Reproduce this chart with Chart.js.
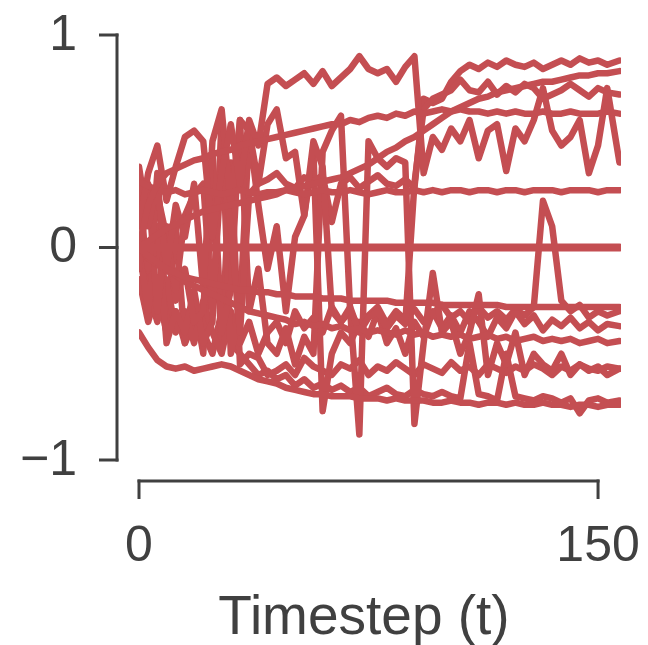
<!DOCTYPE html>
<html>
<head>
<meta charset="utf-8">
<script src="https://cdn.jsdelivr.net/npm/chart.js@4.4.1/dist/chart.umd.min.js"></script>
<style>
  html, body { margin: 0; padding: 0; background: #fff; }
  canvas { display: block; }
</style>
</head>
<body>
<canvas id="myChart" width="648" height="645"></canvas>
<script>
// timesteps sampled every 3 steps, last sample at the end of the run
var timesteps = [0,3,6,9,12,15,18,21,24,27,
  30,33,36,39,42,45,48,51,54,57,
  60,63,66,69,72,75,78,81,84,87,
  90,93,96,99,102,105,108,111,114,117,
  120,123,126,129,132,135,138,141,144,147,
  150,153,157];

var xTicks = [0, 150];
var yTicks = [-1, 0, 1];
var yTickLabels = ['\u22121', '0', '1'];
var xLabel = 'Timestep (t)';

// one array per trajectory
var traj0 = [0,0,0,0,0,0,0,0,0,0, 0,0,0,0,0,0,0,0,0,0, 0,0,0,0,0,0,0,0,0,0,
  0,0,0,0,0,0,0,0,0,0, 0,0,0,0,0,0,0,0,0,0, 0,0,0];
var traj1 = [0,0.03,0.06,0.09,0.11,0.13,0.15,0.17,0.18,0.19,
  0.2,0.21,0.22,0.23,0.24,0.25,0.27,0.28,0.29,0.3,
  0.31,0.32,0.33,0.35,0.37,0.39,0.42,0.45,0.47,0.5,
  0.52,0.55,0.58,0.61,0.64,0.66,0.68,0.7,0.71,0.73,
  0.74,0.75,0.76,0.77,0.78,0.78,0.79,0.8,0.81,0.81,
  0.82,0.82,0.83];
var traj2 = [0,0.2,0.3,0.35,0.37,0.39,0.41,0.42,0.44,0.45,
  0.46,0.48,0.49,0.5,0.51,0.52,0.53,0.54,0.55,0.56,
  0.57,0.58,0.58,0.6,0.59,0.61,0.62,0.61,0.63,0.62,
  0.64,0.63,0.64,0.65,0.64,0.65,0.64,0.64,0.63,0.64,
  0.63,0.64,0.63,0.63,0.64,0.63,0.63,0.64,0.63,0.63,
  0.63,0.64,0.63];
var traj3 = [0.31,0.29,0.27,0.26,0.27,0.25,0.26,0.27,0.26,0.25,
  0.26,0.27,0.26,0.25,0.26,0.26,0.27,0.26,0.25,0.26,
  0.27,0.26,0.26,0.27,0.26,0.25,0.26,0.27,0.26,0.26,
  0.27,0.26,0.27,0.26,0.27,0.27,0.26,0.27,0.27,0.26,
  0.27,0.27,0.26,0.27,0.27,0.27,0.26,0.27,0.27,0.27,
  0.26,0.27,0.27];
var traj4 = [0,-0.04,-0.07,-0.1,-0.12,-0.14,-0.15,-0.16,-0.17,-0.18,
  -0.19,-0.2,-0.2,-0.21,-0.21,-0.22,-0.22,-0.23,-0.23,-0.23,
  -0.24,-0.24,-0.24,-0.25,-0.25,-0.25,-0.25,-0.25,-0.26,-0.26,
  -0.26,-0.26,-0.26,-0.27,-0.27,-0.27,-0.27,-0.27,-0.27,-0.27,
  -0.28,-0.28,-0.28,-0.28,-0.28,-0.28,-0.28,-0.28,-0.28,-0.28,
  -0.28,-0.28,-0.28];
var traj5 = [-0.4,-0.47,-0.53,-0.56,-0.57,-0.56,-0.58,-0.57,-0.56,-0.55,
  -0.56,-0.58,-0.6,-0.62,-0.63,-0.64,-0.66,-0.67,-0.68,-0.69,
  -0.69,-0.7,-0.7,-0.7,-0.71,-0.71,-0.71,-0.72,-0.71,-0.72,
  -0.72,-0.72,-0.73,-0.73,-0.72,-0.73,-0.73,-0.74,-0.73,-0.73,
  -0.74,-0.73,-0.74,-0.74,-0.73,-0.74,-0.74,-0.75,-0.74,-0.74,
  -0.75,-0.74,-0.74];
var traj6 = [0,-0.05,-0.08,-0.11,-0.13,-0.16,-0.18,-0.2,-0.22,-0.24,
  -0.26,-0.28,-0.3,-0.31,-0.32,-0.33,-0.34,-0.36,-0.35,-0.37,
  -0.36,-0.38,-0.37,-0.39,-0.38,-0.4,-0.39,-0.4,-0.41,-0.39,
  -0.41,-0.4,-0.42,-0.41,-0.42,-0.41,-0.43,-0.42,-0.41,-0.43,
  -0.42,-0.44,-0.43,-0.42,-0.44,-0.43,-0.44,-0.43,-0.45,-0.44,
  -0.43,-0.45,-0.44];
var traj7 = [0.1,0.35,0.48,0.22,0.38,0.52,0.55,0.5,0.05,0.35,
  0.58,0.3,0.6,0.48,0.77,0.8,0.76,0.79,0.82,0.77,
  0.83,0.76,0.8,0.84,0.9,0.84,0.82,0.84,0.78,0.85,
  0.9,0.35,0.52,0.46,0.56,0.5,0.6,0.42,0.55,0.58,
  0.36,0.56,0.5,0.6,0.75,0.55,0.48,0.52,0.6,0.35,
  0.48,0.75,0.4];
var traj8 = [0.38,0.1,0.3,-0.1,0.2,0.05,0.3,-0.2,0.5,0.65,
  0.2,0.6,0.55,0.3,0.58,0.65,0.42,0.45,0.15,0.5,
  0.38,-0.3,-0.35,-0.28,-0.4,-0.33,-0.3,-0.38,-0.32,-0.36,
  0.3,0.65,0.7,0.72,0.74,0.79,0.74,0.73,0.78,0.72,
  0.76,0.73,0.77,0.75,0.7,0.72,0.74,0.77,0.74,0.71,
  0.75,0.73,0.72];
var traj9 = [0.2,-0.1,0.25,0.05,-0.2,0.15,0.25,0.3,-0.3,0.4,
  0.1,-0.4,0.25,0.3,0.32,0.35,0.3,0.28,0.33,0.31,
  0.34,0.12,0.3,0.33,0.28,0.31,0.34,0.3,0.29,0.32,
  0.28,0.7,0.68,0.7,0.78,0.83,0.86,0.84,0.87,0.85,
  0.88,0.86,0.85,0.87,0.84,0.86,0.88,0.86,0.89,0.87,
  0.88,0.86,0.88];
var traj10 = [-0.1,0.3,-0.3,0.1,-0.25,-0.1,-0.35,-0.3,0.45,-0.4,
  -0.2,0.6,-0.3,-0.1,-0.45,-0.5,-0.38,-0.55,-0.42,-0.5,
  0.45,0.55,0.62,-0.3,-0.88,0.5,0.42,0.38,0.42,0.4,
  -0.83,-0.45,-0.12,-0.4,-0.35,-0.5,-0.4,-0.22,-0.6,-0.45,
  -0.55,-0.4,-0.6,-0.5,-0.55,-0.58,-0.5,-0.6,-0.55,-0.58,
  -0.56,-0.6,-0.57];
var traj11 = [0,-0.3,0.1,-0.45,-0.3,-0.4,-0.2,-0.45,-0.35,0.6,
  -0.5,-0.3,0.55,0.2,-0.1,0.1,-0.3,0.05,0.15,0.45,
  -0.77,-0.5,-0.4,-0.45,-0.35,-0.42,-0.3,-0.45,-0.38,-0.5,
  -0.35,-0.42,-0.3,-0.38,-0.32,-0.4,-0.3,-0.35,-0.42,-0.33,
  -0.38,-0.3,-0.36,-0.32,-0.39,-0.34,-0.37,-0.33,-0.38,-0.35,
  -0.39,-0.36,-0.37];
var traj12 = [-0.05,-0.2,-0.35,-0.15,-0.4,-0.3,-0.45,-0.25,-0.4,-0.5,
  -0.3,-0.45,-0.35,-0.5,-0.4,-0.35,-0.45,-0.3,-0.38,-0.33,
  -0.4,-0.28,-0.35,-0.3,-0.38,-0.32,-0.28,-0.36,-0.3,-0.34,
  -0.29,-0.35,-0.31,-0.27,-0.33,-0.3,-0.35,-0.28,-0.33,-0.3,
  -0.34,-0.29,-0.32,-0.28,0.22,0.1,-0.25,-0.3,-0.27,-0.33,
  -0.3,-0.32,-0.3];
var traj13 = [0.3,-0.2,0.35,-0.35,0.1,-0.45,-0.25,-0.5,0.3,-0.45,
  0.4,-0.55,-0.5,-0.52,-0.6,-0.58,-0.55,-0.6,-0.52,-0.56,
  -0.58,-0.6,-0.55,-0.57,-0.53,-0.6,-0.56,-0.58,-0.54,-0.57,
  -0.6,-0.55,-0.57,-0.59,-0.54,-0.58,-0.56,-0.6,-0.55,-0.57,
  -0.59,-0.56,-0.58,-0.55,-0.57,-0.6,-0.56,-0.58,-0.55,-0.57,
  -0.58,-0.56,-0.57];
var traj14 = [-0.15,-0.35,-0.2,-0.4,-0.3,-0.45,-0.35,-0.4,-0.5,-0.3,
  -0.45,-0.5,-0.55,-0.6,-0.58,-0.62,-0.6,-0.65,-0.62,-0.66,
  -0.64,-0.67,-0.65,-0.68,-0.66,-0.7,-0.68,-0.66,-0.69,-0.7,
  -0.67,-0.69,-0.7,-0.68,-0.7,-0.71,-0.45,-0.69,-0.7,-0.72,
  -0.5,-0.7,-0.71,-0.72,-0.7,-0.71,-0.73,-0.71,-0.78,-0.72,
  -0.71,-0.73,-0.72];

var allTraj = [traj0, traj1, traj2, traj3, traj4, traj5, traj6, traj7,
  traj8, traj9, traj10, traj11, traj12, traj13, traj14];

var lineColor = '#c44e52';
var axisColor = '#404040';
var fontFamily = '"Liberation Sans", Arial, Helvetica, sans-serif';

var datasets = allTraj.map(function (vals, k) {
  return {
    data: timesteps.map(function (t, i) { return { x: t, y: vals[i] }; }),
    borderColor: lineColor,
    borderWidth: k === 0 ? 8 : 6.5,
    pointRadius: 0,
    tension: 0,
    borderJoinStyle: 'round',
    borderCapStyle: 'round',
    fill: false
  };
});

// seaborn-style offset spines drawn from the chart scales
var spines = {
  id: 'spines',
  afterDraw: function (chart) {
    var ctx = chart.ctx;
    var xs = chart.scales.x, ys = chart.scales.y;
    var area = chart.chartArea;
    ctx.save();
    ctx.strokeStyle = axisColor;
    ctx.fillStyle = axisColor;
    ctx.lineWidth = 3;
    ctx.lineCap = 'butt';

    // y axis
    var sx = area.left - 22;
    ctx.beginPath();
    ctx.moveTo(sx, ys.getPixelForValue(1) - 1.5);
    ctx.lineTo(sx, ys.getPixelForValue(-1) + 1.5);
    ctx.stroke();
    ctx.font = '50px ' + fontFamily;
    ctx.textAlign = 'right';
    ctx.textBaseline = 'middle';
    yTicks.forEach(function (v, i) {
      var py = ys.getPixelForValue(v);
      ctx.beginPath();
      ctx.moveTo(sx - 18, py);
      ctx.lineTo(sx + 1.5, py);
      ctx.stroke();
      ctx.fillText(yTickLabels[i], sx - 40, py + 1);
    });

    // x axis
    var sy = area.bottom + 21;
    ctx.beginPath();
    ctx.moveTo(xs.getPixelForValue(xTicks[0]) - 1.5, sy);
    ctx.lineTo(xs.getPixelForValue(xTicks[xTicks.length - 1]) + 1.5, sy);
    ctx.stroke();
    ctx.textAlign = 'center';
    ctx.textBaseline = 'alphabetic';
    xTicks.forEach(function (v) {
      var px = xs.getPixelForValue(v);
      ctx.beginPath();
      ctx.moveTo(px, sy - 1.5);
      ctx.lineTo(px, sy + 18);
      ctx.stroke();
      ctx.fillText(String(v), px, sy + 80);
    });

    ctx.font = '55px ' + fontFamily;
    ctx.fillText(xLabel, 364, 634);
    ctx.restore();
  }
};

var ctx = document.getElementById('myChart').getContext('2d');
var chart = new Chart(ctx, {
  type: 'line',
  data: { datasets: datasets },
  options: {
    responsive: false,
    animation: false,
    events: [],
    layout: { padding: { left: 139, right: 27, top: 35, bottom: 185 } },
    plugins: { legend: { display: false }, tooltip: { enabled: false } },
    elements: { line: { clip: false } },
    scales: {
      x: { type: 'linear', min: 0, max: 157.5, display: false },
      y: { type: 'linear', min: -1, max: 1, display: false }
    }
  },
  plugins: [spines]
});
</script>
</body>
</html>
